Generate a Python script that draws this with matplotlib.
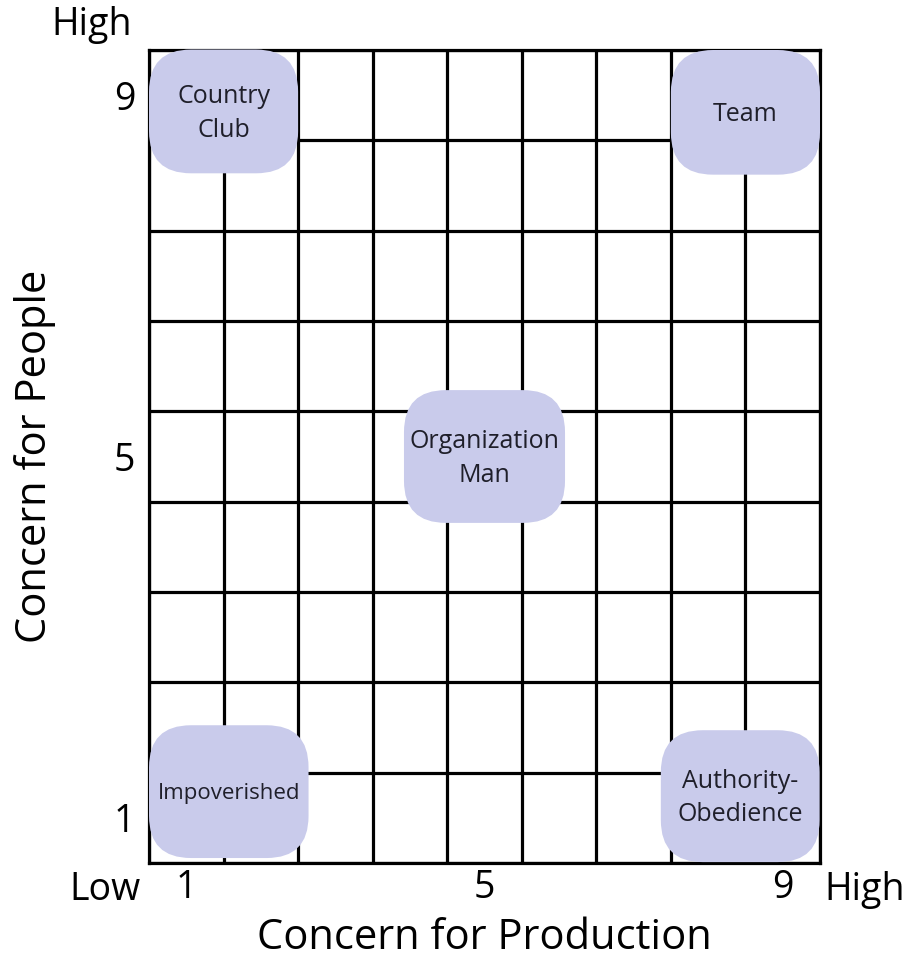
import matplotlib
matplotlib.use("Agg")
from matplotlib import pyplot as plt
from matplotlib.patches import FancyBboxPatch

# managerial grid styles
style_names = ["Country\nClub", "Team", "Organization\nMan", "Impoverished", "Authority-\nObedience"]
box_x = [1.5, 8.5, 5.0, 1.57, 8.43]
box_y = [8.82, 8.81, 5.0, 1.29, 1.24]
box_w = [2.0, 2.0, 2.16, 2.14, 2.13]
box_h = [1.37, 1.38, 1.47, 1.47, 1.46]
tick_values = [1, 5, 9]
tick_labels = ["1", "5", "9"]

plt.rcParams['font.family'] = ['Open Sans', 'DejaVu Sans']

fig = plt.figure(figsize=(9.14, 9.57), dpi=100)
ax = fig.add_axes([149/914, 94/957, 671/914, 813/957])
ax.set_xlim(0.5, 9.5)
ax.set_ylim(0.5, 9.5)

# grid lines
for i in range(10):
    ax.axvline(0.5 + i, color="black", lw=2.3, zorder=1)
    ax.axhline(0.5 + i, color="black", lw=2.3, zorder=1)
for s in ax.spines.values():
    s.set_linewidth(2.3)
    s.set_zorder(1)

px_x = 671 / 9.0
px_y = 813 / 9.0
r = 42 / px_x
for name, cx, cy, w, h in zip(style_names, box_x, box_y, box_w, box_h):
    box = FancyBboxPatch((cx - w/2, cy - h/2), w, h,
                         boxstyle="round,pad=0,rounding_size=%f" % r,
                         mutation_aspect=px_x/px_y,
                         facecolor="#c9cbeb", edgecolor="none", zorder=3, clip_on=False)
    ax.add_patch(box)
    fs = 16 if name == "Impoverished" else 18
    ax.text(cx, cy - 0.02, name, ha="center", va="center", fontsize=fs,
            color="#1f1f2a", linespacing=1.45, zorder=4)

ax.set_xticks(tick_values)
ax.set_xticklabels(tick_labels, fontsize=27)
ax.set_yticks(tick_values)
ax.set_yticklabels(tick_labels, fontsize=27)
ax.tick_params(length=0)
ax.tick_params(axis="x", pad=4)
ax.tick_params(axis="y", pad=10)

ax.set_xlabel("Concern for Production", fontsize=30, va="top")
ax.xaxis.set_label_coords(0.5, -0.066)
ax.set_ylabel("Concern for People", fontsize=30, va="center")
ax.yaxis.set_label_coords(-0.17, 0.5)

fig.text(92/914, 1 - 25/957, "High", fontsize=27, ha="center", va="center")
fig.text(105/914, 1 - 890/957, "Low", fontsize=27, ha="center", va="center")
fig.text(865/914, 1 - 890/957, "High", fontsize=27, ha="center", va="center")

fig.savefig("out.png", dpi=100)
